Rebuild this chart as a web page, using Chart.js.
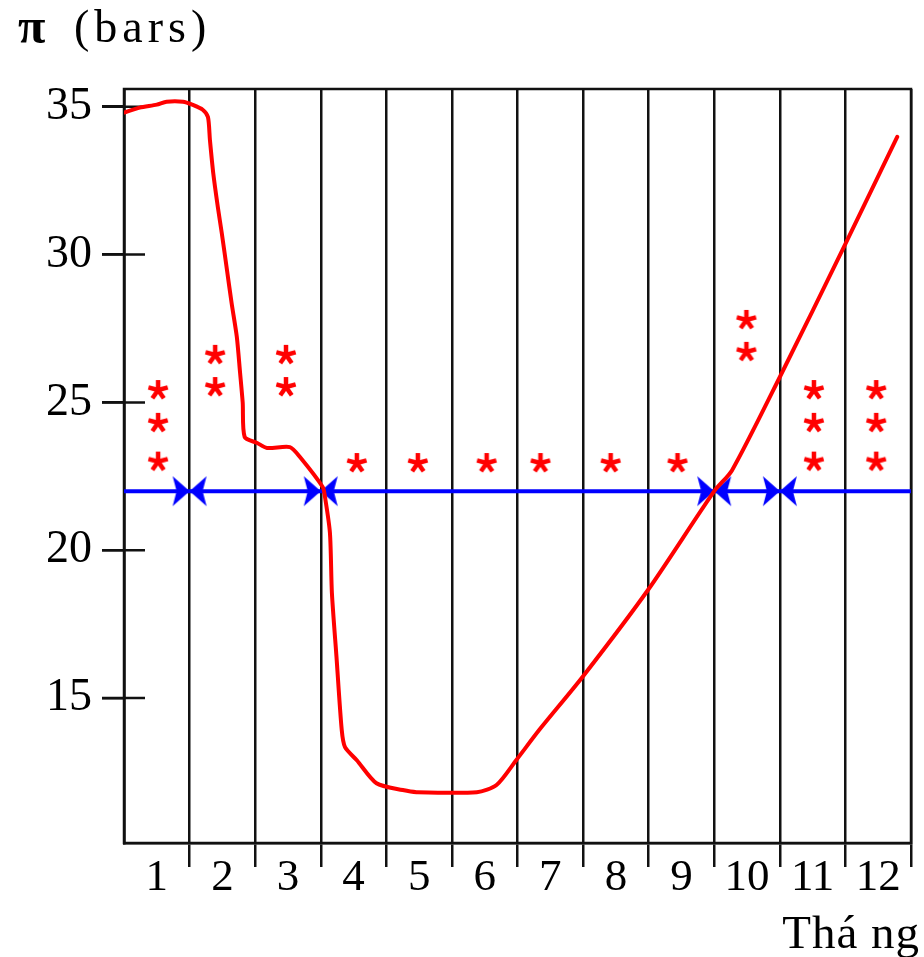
<!DOCTYPE html>
<html>
<head>
<meta charset="utf-8">
<script src="https://cdn.jsdelivr.net/npm/chart.js@4/dist/chart.umd.min.js"></script>
<style>
html,body{margin:0;padding:0;background:#fff;}
#wrap{width:924px;height:957px;position:relative;}
</style>
</head>
<body>
<div id="wrap"><canvas id="c"></canvas></div>
<script>
// ---- data ----
const monthLabels = ['1','2','3','4','5','6','7','8','9','10','11','12'];
const yTickValues = [15, 20, 25, 30, 35];
const yTitle = 'π';
const yUnit = '(bars)';
const xTitle = 'Thá ng';

const curveMonths = [0,0.24,0.5,0.65,0.9,1.04,1.2,1.28,1.31,1.36,1.43,1.49,1.57,1.64,1.72,1.77,1.81,1.84,2.03,2.18,2.53,2.68,3.03,3.06,3.14,3.17,3.24,3.32,3.37,3.55,3.85,4.25,4.46,5.38,5.68,5.98,6.33,7,8,9,9.27,10,11,11.79];
const curvePressure = [34.8,34.97,35.07,35.17,35.17,35.07,34.9,34.65,33.88,32.77,31.62,30.74,29.48,28.37,27.22,26.0,24.99,23.83,23.63,23.46,23.49,23.16,22.14,21.87,20.59,18.56,16.39,13.92,13.34,12.9,12.12,11.89,11.82,11.82,12.06,12.9,13.92,15.74,18.69,22.0,22.7,25.86,30.36,33.98];

const thresholdPressure = 22;
const thresholdMonths = [0, 12];
const arrowMonths = [1, 3, 9, 10];

const starMonths = [0.52,0.52,0.52, 1.39,1.39, 2.47,2.47, 3.55,4.48,5.53,6.35,7.42,8.44, 9.49,9.49, 10.52,10.52,10.52, 11.47,11.47,11.47];
const starPressure = [25.42,24.31,23.0, 26.61,25.52, 26.61,25.52, 22.95,22.95,22.95,22.95,22.95,22.95, 27.79,26.71, 25.42,24.31,23.0, 25.42,24.31,23.0];

// ---- marker images ----
function makeStar(){
  const c = document.createElement('canvas');
  c.width = 24; c.height = 24;
  const g = c.getContext('2d');
  g.strokeStyle = '#ff0000';
  g.lineWidth = 4.5;
  g.lineCap = 'butt';
  const cx = 12, cy = 12, L = 10;
  [90, 15, 165, -55, -125].forEach(a => {
    const r = a * Math.PI / 180;
    g.beginPath();
    g.moveTo(cx, cy);
    g.lineTo(cx + Math.cos(r) * L, cy - Math.sin(r) * L);
    g.stroke();
  });
  return c;
}
function makeArrows(){
  const c = document.createElement('canvas');
  c.width = 36; c.height = 32;
  const g = c.getContext('2d');
  g.fillStyle = '#0000ff';
  g.beginPath();
  g.moveTo(1, 1); g.lineTo(18, 16); g.lineTo(1, 31); g.lineTo(5, 16); g.closePath(); g.fill();
  g.beginPath();
  g.moveTo(35, 1); g.lineTo(18, 16); g.lineTo(35, 31); g.lineTo(31, 16); g.closePath(); g.fill();
  return c;
}
const starImg = makeStar();
const arrowImg = makeArrows();

const SERIF = '"Liberation Serif", "Times New Roman", serif';

const framePlugin = {
  id: 'frame',
  beforeDatasetsDraw(chart){
    const {ctx, chartArea:a, scales} = chart;
    ctx.save();
    ctx.strokeStyle = '#111';
    ctx.lineWidth = 2.5;
    ctx.strokeRect(a.left, a.top, a.right - a.left, a.bottom - a.top);
    // y ticks crossing the axis
    yTickValues.forEach(v => {
      const y = scales.y.getPixelForValue(v);
      ctx.beginPath();
      ctx.moveTo(a.left - 22, y);
      ctx.lineTo(a.left + 21, y);
      ctx.stroke();
    });
    ctx.restore();
  },
  afterDraw(chart){
    const {ctx} = chart;
    ctx.save();
    ctx.fillStyle = '#000';
    ctx.textBaseline = 'alphabetic';
    ctx.textAlign = 'left';
    ctx.font = 'bold 50px ' + SERIF;
    ctx.fillText(yTitle, 18, 43);
    ctx.font = '46px ' + SERIF;
    ctx.letterSpacing = '5px';
    ctx.fillText(yUnit, 74, 42);
    ctx.letterSpacing = '1px';
    ctx.textAlign = 'right';
    ctx.font = '47px ' + SERIF;
    ctx.fillText(xTitle, 920, 948);
    ctx.restore();
  }
};

new Chart(document.getElementById('c'), {
  type: 'line',
  data: {
    datasets: [
      {
        label: 'pressure',
        data: curveMonths.map((m, i) => ({x: m, y: curvePressure[i]})),
        borderColor: '#ff0000',
        borderWidth: 4,
        pointRadius: 0,
        tension: 0.25,
        borderCapStyle: 'round',
        borderJoinStyle: 'round',
        order: 0
      },
      {
        label: 'arrows',
        data: arrowMonths.map(m => ({x: m, y: thresholdPressure})),
        showLine: false,
        pointStyle: arrowImg,
        pointRadius: 12,
        order: 1
      },
      {
        label: 'threshold',
        data: thresholdMonths.map(m => ({x: m, y: thresholdPressure})),
        borderColor: '#0000ff',
        borderWidth: 4,
        pointRadius: 0,
        order: 2
      },
      {
        label: 'stars',
        data: starMonths.map((m, i) => ({x: m, y: starPressure[i]})),
        showLine: false,
        pointStyle: starImg,
        pointRadius: 10,
        order: 3
      }
    ]
  },
  options: {
    responsive: true,
    maintainAspectRatio: false,
    animation: false,
    layout: { padding: { top: 89, right: 12, left: 0, bottom: 0 } },
    plugins: { legend: { display: false }, tooltip: { enabled: false }, title: { display: false } },
    scales: {
      x: {
        type: 'linear',
        min: 0, max: 12,
        afterBuildTicks: s => {
          const t = [];
          for (let i = 0; i <= 24; i++) t.push({value: i / 2});
          s.ticks = t;
        },
        afterFit: s => { s.height = 114; },
        border: { color: '#111', width: 2.5 },
        grid: {
          color: c => (c.tick && Number.isInteger(c.tick.value)) ? '#111' : 'rgba(0,0,0,0)',
          lineWidth: c => (c.tick && Number.isInteger(c.tick.value)) ? 2.5 : 0,
          tickColor: c => (c.tick && Number.isInteger(c.tick.value) && c.tick.value > 0) ? '#111' : 'rgba(0,0,0,0)',
          tickWidth: 2.5,
          tickLength: 24
        },
        ticks: {
          autoSkip: false,
          maxRotation: 0,
          padding: -16,
          color: '#000',
          font: { family: SERIF, size: 45 },
          callback: (v, i) => (i % 2 === 1) ? monthLabels[(i - 1) / 2] : ''
        }
      },
      y: {
        type: 'linear',
        min: 10.1, max: 35.6,
        afterBuildTicks: s => { s.ticks = yTickValues.map(v => ({value: v})); },
        afterFit: s => { s.width = 124; },
        border: { color: '#111', width: 2.5 },
        grid: {
          drawOnChartArea: false,
          color: '#111',
          lineWidth: 2.5,
          tickLength: 22
        },
        ticks: {
          padding: 10,
          color: '#000',
          font: { family: SERIF, size: 46 }
        }
      }
    }
  },
  plugins: [framePlugin]
});
</script>
</body>
</html>
